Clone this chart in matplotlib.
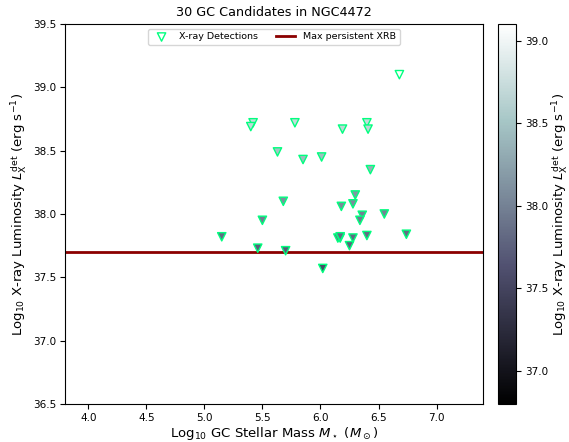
import numpy as np
import matplotlib.pyplot as plt

# GC stellar mass (log10 Msun) and detected X-ray luminosity (log10 erg/s)
log_mass = [6.68, 5.42, 5.40, 5.78, 6.19, 6.40, 6.41, 5.63, 5.85, 6.01,
            6.43, 6.30, 5.68, 6.28, 6.18, 6.36, 6.55, 6.34, 5.50, 5.15,
            6.15, 6.17, 6.28, 6.40, 6.74, 6.25, 5.46, 5.70, 6.02, 6.17]
log_lx = [39.10, 38.72, 38.69, 38.72, 38.67, 38.72, 38.67, 38.49, 38.43, 38.45,
          38.35, 38.15, 38.10, 38.08, 38.06, 37.99, 38.00, 37.95, 37.95, 37.82,
          37.81, 37.81, 37.81, 37.83, 37.84, 37.75, 37.73, 37.71, 37.57, 37.82]
max_persistent_xrb = 37.70

fig = plt.figure(figsize=(5.69, 4.42), dpi=100)
ax = fig.add_axes([65 / 569, 38 / 442, 418 / 569, 380 / 442])
cax = fig.add_axes([498 / 569, 38 / 442, 18 / 569, 380 / 442])

sc = ax.scatter(log_mass, log_lx, c=log_lx, cmap='bone', vmin=36.8, vmax=39.1,
                marker='v', s=36, edgecolors='springgreen', linewidths=1,
                label='X-ray Detections', zorder=3)
ax.axhline(max_persistent_xrb, color='darkred', lw=2, label='Max persistent XRB')

ax.set_xlim(3.8, 7.4)
ax.set_ylim(36.5, 39.5)
ax.set_xticks(np.arange(4.0, 7.01, 0.5))
ax.tick_params(labelsize=7.5, pad=3)
ax.set_xlabel(r'Log$_{10}$ GC Stellar Mass $M_\star$ ($M_\odot$)', fontsize=9.5, labelpad=1.5)
ax.set_ylabel(r'Log$_{10}$ X-ray Luminosity $L_{\rm X}^{\rm det}$ (erg s$^{-1}$)',
              fontsize=9.5, labelpad=3)
ax.set_title('30 GC Candidates in NGC4472', fontsize=9.2, pad=6)
leg = ax.legend(loc='upper center', ncol=2, fontsize=6.8)
leg.legend_handles[0].set_facecolor('white')

cb = fig.colorbar(sc, cax=cax)
cb.ax.tick_params(labelsize=7.5, pad=3)
cb.set_label(r'Log$_{10}$ X-ray Luminosity $L_{\rm X}^{\rm det}$ (erg s$^{-1}$)',
             fontsize=9.5, labelpad=2)

fig.savefig('out.png', dpi=100)
